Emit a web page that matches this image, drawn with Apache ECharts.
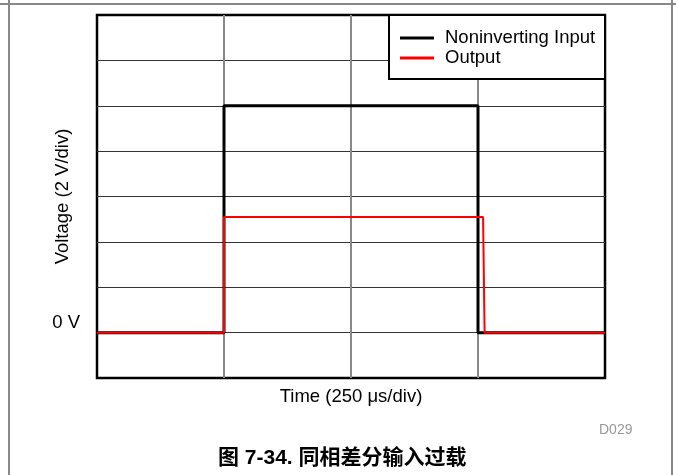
<!DOCTYPE html>
<html>
<head>
<meta charset="utf-8">
<script src="https://cdn.jsdelivr.net/npm/echarts@6/dist/echarts.min.js"></script>
<style>
  html, body { margin: 0; padding: 0; background: #fff; }
  #chart { width: 676px; height: 475px; }
</style>
</head>
<body>
<div id="chart"></div>
<script>
// time in µs (250 µs/div), voltage in V (2 V/div)
var inputTime = [0, 250, 250, 750, 750, 1000];
var inputVolt = [0, 0, 10, 10, 0, 0];
var outputTime = [0, 250, 250, 760, 763, 1000];
var outputVolt = [0, 0, 5.1, 5.1, 0, 0];
var seriesNames = ["Noninverting Input", "Output"];

function pairs(xs, ys) {
  var out = [];
  for (var i = 0; i < xs.length; i++) {
    out.push([xs[i], ys[i]]);
  }
  return out;
}

var font = "Liberation Sans, Arial, sans-serif";
var mychart = echarts.init(document.getElementById("chart"));
var option = {
  animation: false,
  textStyle: { fontFamily: font },
  grid: {
    left: 97,
    right: 71,
    top: 15,
    bottom: 97,
    show: true,
    borderColor: "#000",
    borderWidth: 2.5
  },
  legend: {
    orient: "vertical",
    left: 400,
    top: 28,
    padding: 0,
    itemGap: 0,
    itemWidth: 34,
    itemHeight: 3,
    itemTextGap: 11,
    icon: "rect",
    z: 20,
    textStyle: { fontSize: 18.5, lineHeight: 20, padding: [0, 0, 0, 6], color: "#000", fontFamily: font },
    data: seriesNames
  },
  xAxis: {
    type: "value",
    min: 0,
    max: 1000,
    interval: 250,
    name: "Time (250 μs/div)",
    nameLocation: "middle",
    nameGap: 9,
    nameTextStyle: { fontSize: 18.5, color: "#000", verticalAlign: "top" },
    axisLine: { show: false },
    axisTick: { show: false },
    axisLabel: { show: false },
    splitLine: { show: true, showMinLine: false, showMaxLine: false, lineStyle: { color: "#888", width: 2 } }
  },
  yAxis: {
    type: "value",
    min: -2,
    max: 14,
    interval: 2,
    name: "Voltage (2 V/div)",
    nameLocation: "middle",
    nameRotate: 90,
    nameGap: 25,
    nameMoveOverlap: false,
    nameTextStyle: { fontSize: 18.5, color: "#000" },
    axisLine: { show: false },
    axisTick: { show: false },
    axisLabel: {
      margin: 17,
      fontSize: 18.5,
      color: "#000",
      verticalAlign: "bottom",
      formatter: function (v) {
        return v === 0 ? "0 V" : "";
      }
    },
    splitLine: { show: true, showMinLine: false, showMaxLine: false, lineStyle: { color: "#333", width: 1 } }
  },
  series: [
    {
      name: seriesNames[0],
      type: "line",
      data: pairs(inputTime, inputVolt),
      symbol: "none",
      color: "#000",
      lineStyle: { color: "#000", width: 3 },
      z: 2
    },
    {
      name: seriesNames[1],
      type: "line",
      data: pairs(outputTime, outputVolt),
      symbol: "none",
      color: "#ff0000",
      lineStyle: { color: "#ff0000", width: 2 },
      z: 3
    }
  ],
  graphic: [
    { type: "line", shape: { x1: 0, y1: 4, x2: 676, y2: 4 }, style: { stroke: "#888", lineWidth: 2 } },
    { type: "line", shape: { x1: 9, y1: 0, x2: 9, y2: 475 }, style: { stroke: "#888", lineWidth: 2 } },
    { type: "line", shape: { x1: 672, y1: 0, x2: 672, y2: 475 }, style: { stroke: "#888", lineWidth: 2 } },
    // legend frame
    {
      type: "rect", z: 10,
      shape: { x: 389, y: 15, width: 216, height: 64 },
      style: { fill: "#fff", stroke: "#000", lineWidth: 2 }
    },
    {
      type: "text", left: 599, top: 423,
      style: { text: "D029", fontSize: 14, fill: "#999", fontFamily: font }
    },
    {
      type: "text", left: 218, top: 448,
      style: { text: "图 7-34. 同相差分输入过载", fontSize: 21, fontWeight: "bold", fill: "#000", fontFamily: "Liberation Sans, Noto Sans CJK SC, sans-serif" }
    }
  ]
};
mychart.setOption(option);
</script>
</body>
</html>
